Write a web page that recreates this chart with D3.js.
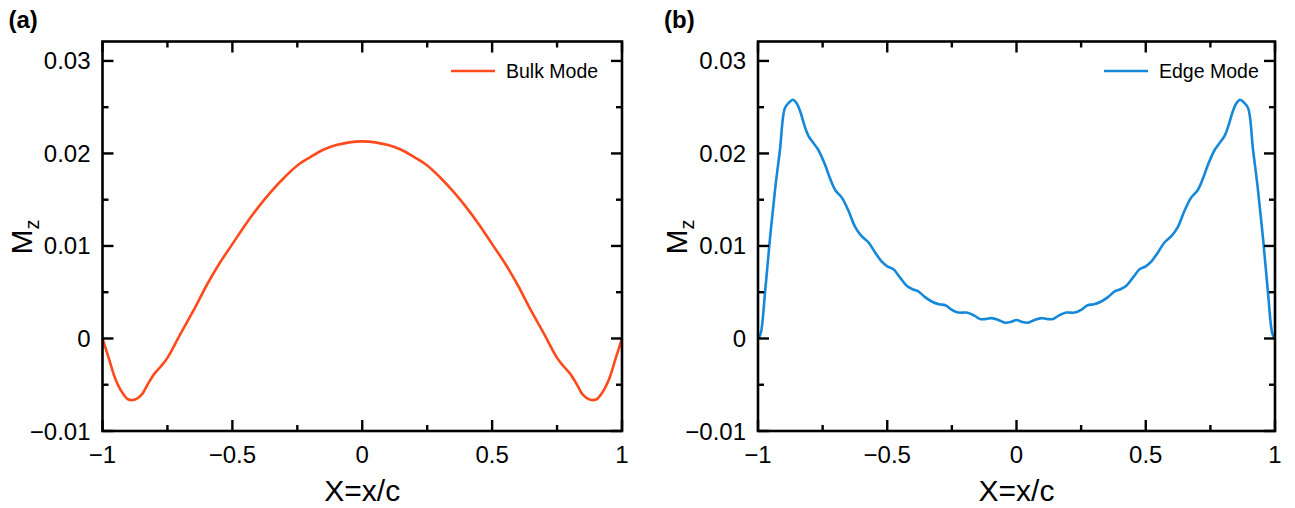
<!DOCTYPE html>
<html>
<head>
<meta charset="utf-8">
<script src="https://cdn.jsdelivr.net/npm/d3@7"></script>
<style>
  body { margin: 0; background: #fff; }
  svg { display: block; font-family: "Liberation Sans", Arial, Helvetica, sans-serif; }
</style>
</head>
<body>
<svg id="chart" width="1295" height="508"></svg>
<script>
// Bulk mode (panel a)
const bulkX = [-1, -0.975, -0.95, -0.925, -0.9, -0.875, -0.85, -0.825, -0.8, -0.775, -0.75, -0.7, -0.65, -0.6, -0.55, -0.5, -0.45, -0.4, -0.35, -0.3, -0.25, -0.2, -0.15, -0.1, -0.05, 0,
  0.05, 0.1, 0.15, 0.2, 0.25, 0.3, 0.35, 0.4, 0.45, 0.5, 0.55, 0.6, 0.65, 0.7, 0.75, 0.775, 0.8, 0.825, 0.85, 0.875, 0.9, 0.925, 0.95, 0.975, 1];
const bulkY = [0, -0.0022, -0.0044, -0.0058, -0.0066, -0.0066, -0.0061, -0.0049, -0.0038, -0.0030, -0.0021, 0.0005, 0.0030, 0.0057, 0.0081, 0.0102, 0.0123, 0.0142, 0.0159, 0.0174, 0.0187, 0.0196, 0.0204, 0.0209, 0.0212, 0.0213,
  0.0212, 0.0209, 0.0204, 0.0196, 0.0187, 0.0174, 0.0159, 0.0142, 0.0123, 0.0102, 0.0081, 0.0057, 0.0030, 0.0005, -0.0021, -0.0030, -0.0038, -0.0049, -0.0061, -0.0066, -0.0066, -0.0058, -0.0044, -0.0022, 0];

// Edge mode (panel b)
const edgeX = [-1, -0.99, -0.973, -0.954, -0.934, -0.915, -0.896, -0.88, -0.865, -0.85, -0.835, -0.82, -0.805, -0.785, -0.767, -0.741, -0.72, -0.7, -0.675, -0.65, -0.625, -0.6, -0.573, -0.547, -0.521, -0.5, -0.477, -0.451, -0.425, -0.4, -0.38, -0.355, -0.328, -0.3, -0.275, -0.25, -0.225, -0.193, -0.165, -0.141, -0.118, -0.096, -0.07, -0.044, -0.02, 0,
  0.02, 0.044, 0.07, 0.096, 0.118, 0.141, 0.165, 0.193, 0.225, 0.25, 0.275, 0.3, 0.328, 0.355, 0.38, 0.4, 0.425, 0.451, 0.477, 0.5, 0.521, 0.547, 0.573, 0.6, 0.625, 0.65, 0.675, 0.7, 0.72, 0.741, 0.767, 0.785, 0.805, 0.82, 0.835, 0.85, 0.865, 0.88, 0.896, 0.915, 0.934, 0.954, 0.973, 0.99, 1];
const edgeY = [0, 0.0005, 0.0049, 0.0107, 0.0161, 0.0204, 0.0249, 0.0255, 0.0258, 0.0254, 0.0244, 0.0230, 0.0219, 0.0211, 0.0204, 0.0188, 0.0172, 0.0160, 0.0152, 0.0138, 0.0121, 0.0111, 0.0104, 0.0093, 0.0083, 0.0078, 0.0075, 0.0066, 0.0057, 0.0053, 0.0051, 0.0045, 0.0040, 0.0037, 0.0036, 0.0031, 0.0028, 0.0028, 0.0025, 0.0021, 0.0021, 0.0022, 0.0020, 0.0017, 0.0018, 0.0020,
  0.0018, 0.0017, 0.0020, 0.0022, 0.0021, 0.0021, 0.0025, 0.0028, 0.0028, 0.0031, 0.0036, 0.0037, 0.0040, 0.0045, 0.0051, 0.0053, 0.0057, 0.0066, 0.0075, 0.0078, 0.0083, 0.0093, 0.0104, 0.0111, 0.0121, 0.0138, 0.0152, 0.0160, 0.0172, 0.0188, 0.0204, 0.0211, 0.0219, 0.0230, 0.0244, 0.0254, 0.0258, 0.0255, 0.0249, 0.0204, 0.0161, 0.0107, 0.0049, 0.0005, 0];

const xMajor = [-1, -0.5, 0, 0.5, 1];
const xMinor = [-0.75, -0.25, 0.25, 0.75];
const yMajor = [-0.01, 0, 0.01, 0.02, 0.03];
const yMinor = [-0.005, 0.005, 0.015, 0.025];
const xTickLabels = ["\u22121", "\u22120.5", "0", "0.5", "1"];
const yTickLabels = ["\u22120.01", "0", "0.01", "0.02", "0.03"];

const panels = [
  { tag: "(a)", name: "Bulk Mode", xs: bulkX, ys: bulkY, color: "#ff4a1c", left: 102.5, right: 622 },
  { tag: "(b)", name: "Edge Mode", xs: edgeX, ys: edgeY, color: "#1588d9", left: 758, right: 1275 }
];

const svg = d3.select("#chart");
const plotTop = 41.5, plotBottom = 431;
const majorLen = 11, minorLen = 6;

panels.forEach(p => {
  const x = d3.scaleLinear().domain([-1, 1]).range([p.left, p.right]);
  const y = d3.scaleLinear().domain([-0.01, 0.0321]).range([plotBottom, plotTop]);
  const g = svg.append("g");

  // panel tag
  svg.append("text")
    .attr("x", p.left - 94).attr("y", 28)
    .attr("font-size", 24).attr("font-weight", "bold")
    .text(p.tag);

  // curve
  const data = p.xs.map((v, i) => [v, p.ys[i]]);
  g.append("path")
    .datum(data)
    .attr("fill", "none")
    .attr("stroke", p.color)
    .attr("stroke-width", 2.6)
    .attr("stroke-linejoin", "round")
    .attr("d", d3.line().x(d => x(d[0])).y(d => y(d[1])).curve(d3.curveCatmullRom.alpha(0.5)));

  // inward ticks on all four sides
  const tk = g.append("g").attr("stroke", "#000").attr("stroke-width", 2.4);
  const addX = (vals, len) => vals.forEach(v => {
    tk.append("line").attr("x1", x(v)).attr("x2", x(v)).attr("y1", plotBottom).attr("y2", plotBottom - len);
    tk.append("line").attr("x1", x(v)).attr("x2", x(v)).attr("y1", plotTop).attr("y2", plotTop + len);
  });
  const addY = (vals, len) => vals.forEach(v => {
    tk.append("line").attr("y1", y(v)).attr("y2", y(v)).attr("x1", p.left).attr("x2", p.left + len);
    tk.append("line").attr("y1", y(v)).attr("y2", y(v)).attr("x1", p.right).attr("x2", p.right - len);
  });
  addX(xMajor, majorLen); addX(xMinor, minorLen);
  addY(yMajor, majorLen); addY(yMinor, minorLen);

  // frame
  g.append("rect")
    .attr("x", p.left).attr("y", plotTop)
    .attr("width", p.right - p.left).attr("height", plotBottom - plotTop)
    .attr("fill", "none").attr("stroke", "#000").attr("stroke-width", 2.6);

  // tick labels
  xMajor.forEach((v, i) => {
    g.append("text").attr("x", x(v)).attr("y", 463)
      .attr("text-anchor", "middle").attr("font-size", 24)
      .text(xTickLabels[i]);
  });
  yMajor.forEach((v, i) => {
    g.append("text").attr("x", p.left - 12).attr("y", y(v) + 8.5)
      .attr("text-anchor", "end").attr("font-size", 24)
      .text(yTickLabels[i]);
  });

  // axis titles
  g.append("text")
    .attr("x", (p.left + p.right) / 2).attr("y", 501)
    .attr("text-anchor", "middle").attr("font-size", 30)
    .text("X=x/c");
  const yl = g.append("text")
    .attr("transform", `translate(${p.left - 71},${y(0.01) - 9}) rotate(-90)`)
    .attr("text-anchor", "middle").attr("font-size", 30);
  yl.append("tspan").text("M");
  yl.append("tspan").attr("font-size", 20).attr("dy", 7).text("z");

  // legend
  const lx = p.right - 171, ly = 71;
  g.append("line")
    .attr("x1", lx).attr("x2", lx + 44).attr("y1", ly).attr("y2", ly)
    .attr("stroke", p.color).attr("stroke-width", 2.6);
  g.append("text")
    .attr("x", lx + 55).attr("y", ly + 6.5)
    .attr("font-size", 19.5)
    .text(p.name);
});
</script>
</body>
</html>
